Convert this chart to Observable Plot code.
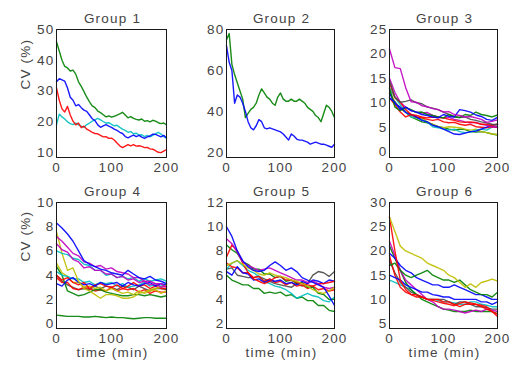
<!DOCTYPE html>
<html><head><meta charset="utf-8">
<script src="https://cdn.jsdelivr.net/npm/d3@7"></script>
<script src="https://cdn.jsdelivr.net/npm/@observablehq/plot@0.6"></script>
<style>
body{margin:0;background:#fff}
#chart{position:relative;width:514px;height:367px;overflow:hidden}
.panel{position:absolute}
</style>
</head><body><div id="chart"></div>
<script>
// time grids (min)
const time5 = [0,5,10,15,20,25,30,35,40,45,50,55,60,65,70,75,80,85,90,95,100,105,110,115,120,125,130,135,140,145,150,155,160,165,170,175,180,185,190,195,200];
const time10 = [0,10,20,30,40,50,60,70,80,90,100,110,120,130,140,150,160,170,180,190,200];
const xTicks = [0,100,200];

// Group 1 (CV %)
const g1Green = [46,43,40,38,37.5,36.5,36.8,35.5,33,31.5,29.8,28,26.5,25.2,24.6,23.5,23,22.3,21.6,21.9,21.5,21.8,22.2,22.6,23.1,22.2,21.3,21.7,21.1,20.8,20.6,20.9,20.2,20.4,20,20.5,20.2,19.7,19.4,19.6,19];
const g1Blue = [33,34,33.6,33.2,31,28,27,25.2,25.6,24.6,23.8,23.4,22.2,21,20.4,19,18.2,18.7,19.1,18.6,18.2,17.6,17.2,16.6,16.2,15.2,14.8,15.3,15.7,15.2,15.6,15,14.6,15.1,15.4,16,15.9,15.5,15.1,15.6,14.7];
const g1Cyan = [19,22.5,21.6,20.9,20,19.4,19.1,19.6,19,18.6,18.2,19.1,19.6,20.2,20.6,21.1,20.6,20.1,19.6,19.7,19.2,18.7,18.9,18.2,17.6,17.2,16.6,16.8,16.1,16.3,15.7,15.8,15.2,15.6,15.1,15.6,16.1,16.6,16,15.2,14.7];
const g1Red = [31,27,24.2,23.2,25,22.2,20.2,19,19.6,18.1,18.6,17.6,17.1,16.6,16.2,16.1,15.6,15.1,15.2,14.6,14.7,14.1,13.1,12.2,11.6,12.1,12.6,12.2,12.6,12.1,12.2,12,11.6,11.7,11.2,11.1,10.6,10.1,10,10.5,11];

// Group 2
const g2Green = [75,78,63,58,54,50,46,37,39,41,42,44,48,51,49,47,46,44,43,47,49,46,45,45,46,45,45,46,45,44,42,41,40,38,37,35,39,43,42,40,37];
const g2Blue = [72,64,60,44,48,47,44,40,35,32,31,33,36,35,32,31.5,32,31.5,31,30.5,30,29,27.5,26,29,28,26.5,26,26,25.5,25,24,24.5,25,24.5,24,24,23.5,23,22.5,24];

// Group 3
const g3Magenta1 = [21,17.2,17,13.1,10.2,10.1,9.4,9.2,8.8,8.6,8.1,8.2,7.6,7.4,7.1,7.2,6.9,6.6,6,6.2,6.5];
const g3Gray = [14.5,11.2,10.1,10.3,10.6,10,9.8,9.1,8.9,8.6,8.1,7.6,7.2,7,7.1,6.6,6.4,6.1,5.9,5.6,5.5];
const g3Blue1 = [11,10.1,8.6,9.1,8.4,8.1,7.6,7.4,7.1,6.9,7.6,7.2,7.1,8.6,8.4,8.1,7.5,7.2,6.6,6.4,7];
const g3Blue2 = [12,9.8,9.1,8,7.6,7.1,6.4,6.1,5.4,5.1,4.6,4.1,3.6,3.5,3.8,4.1,4.2,4.6,5,5.4,5.6];
const g3Green1 = [13,9.1,8.4,9,8.6,8,8.1,7.6,7.4,7.1,6.9,7.6,7.1,7,7.6,7.4,8.1,7.6,7.4,7.1,7.5];
const g3Green2 = [12,10.2,8.9,8.1,7.1,6.6,6.1,5.9,5.6,5.1,4.9,4.6,4.4,4.6,4.5,4.1,4,4.1,3.9,3.6,3.4];
const g3Red1 = [14,11.1,10.1,8.6,7.6,7.4,7.1,6.9,7.1,7,6.9,6.6,6.4,6.1,6,6.1,5.9,5.6,5.6,5.4,5.6];
const g3Red2 = [11,9.6,8.1,7.1,7.6,7,6.9,6.6,6.4,6.6,6.1,5.9,6,5.6,5.4,5.6,5.1,5,4.9,5.1,5];
const g3Yellow = [12.5,10.1,8.9,8.1,7.4,7.1,6.9,6.1,5.6,5.1,4.9,5.1,5,4.9,4.6,4.4,4.6,4.1,3.9,3.6,3.5];
const g3Cyan = [13,11.1,9.6,8.1,7.1,6.9,6.6,6,5.1,4.9,4.6,4.4,4.6,4.1,3.9,4,4.4,4.6,4.4,5,5.1];
const g3Magenta2 = [15,12.1,10.1,9.1,8.4,8.1,7.9,8,7.4,7.1,6.9,7,6.6,6.4,6.1,5.9,6,5.6,5.4,5.1,5];

// Group 4
const g4Blue1 = [8.3,7.9,7.4,6.8,6,5.2,4.9,4.7,4.5,4.4,4.2,4.1,4,4.4,4.1,3.8,3.7,3.9,3.6,3.5,3.3];
const g4Blue2 = [3.3,3.1,3.6,3.8,3.4,3.2,3.3,3.1,3.4,3.2,3.3,3.4,3.1,3.4,3.2,3.1,3.3,3.4,3.1,3.3,3.2];
const g4Yellow1 = [7.6,5.8,4.4,4.6,3.5,2.9,2.7,2.4,2.1,2.4,2.4,2.3,2.1,2.1,2.2,2.5,2.6,2.8,2.9,3,3.2];
const g4Yellow2 = [5,4.2,3.9,3.4,3.4,3,3.1,2.9,3,2.7,2.9,2.7,2.5,2.6,2.4,2.7,2.5,2.7,2.8,2.5,2.7];
const g4Magenta1 = [7.2,6.8,6.3,5.8,5.6,5.1,5,4.7,4.8,4.5,4.6,4.3,4.2,4.1,3.8,3.8,3.5,3.5,3.3,3.3,3];
const g4Magenta2 = [6.6,6.1,5.9,5.3,5.1,4.6,4.7,4.4,4.4,4.1,4.1,3.8,3.9,3.6,3.7,3.4,3.5,3.2,3.3,3,3.1];
const g4Cyan1 = [6,5.8,5.7,5.4,5.3,4.9,4.8,4.4,4.4,4,4.1,3.8,3.9,3.7,3.8,3.5,3.7,3.5,3.6,3.7,3.5];
const g4Cyan2 = [4.3,4,3.9,3.7,3.7,3.4,3.5,3.2,3.4,3.3,3.4,3.1,3.3,3,3.1,3.2,3.4,3.1,3.2,3.1,3.3];
const g4Red1 = [4,3.6,3.8,3.4,3.2,3.4,2.9,3.2,3.3,3.1,3,3.2,2.9,3.1,3.4,3.1,3.2,2.9,3.1,2.9,2.9];
const g4Red2 = [3.8,3.4,3.4,2.9,2.8,3,2.9,2.7,2.8,2.7,3,2.7,2.9,2.8,2.9,2.6,2.8,2.5,2.7,2.6,2.6];
const g4Green1 = [4.7,4,2.7,2.5,2.3,2.4,2.6,2.8,2.8,2.6,2.5,2.4,2.3,2.3,2.4,2.4,2.3,2.4,2.3,2.2,2.3];
const g4Green2 = [0.7,0.65,0.6,0.6,0.6,0.55,0.55,0.6,0.55,0.5,0.55,0.5,0.5,0.45,0.4,0.45,0.5,0.5,0.45,0.45,0.45];
const g4Gray = [4,3.5,3.2,3,2.8,2.9,2.8,3.1,2.9,3.1,3,2.8,3.1,3,2.8,3.1,2.9,2.7,2.9,2.9,2.8];

// Group 5
const g5Blue1 = [10,9.2,8,7.2,6.7,6.4,6.3,6.4,6.8,7.1,6.8,6.4,6.6,6.3,5.8,5.6,5.4,5.2,5,4.3,3.5];
const g5Blue2 = [6.3,6,6.7,6.2,6.1,5.6,5.7,5.4,5.6,5.5,5.6,5.3,5.4,5.2,5.5,5.3,5.6,5.5,5.3,5.6,5.5];
const g5Magenta = [9,8.6,7.9,7.1,6.8,6.6,6.4,6.5,6.6,6.4,6.2,6,5.8,5.6,5.6,5.4,5.5,5.3,5,4.9,5];
const g5Red1 = [7.5,8.5,8,7,6.2,5.7,5.5,5.3,5.5,5.8,5.9,5.6,5.6,5.4,5.3,5.2,5.1,5.3,5.3,5.4,5.5];
const g5Red2 = [7,6.7,6.6,6.2,6.2,5.8,5.9,5.5,5.7,5.4,5.5,5.2,5.4,5.1,5.2,4.9,5.1,4.8,4.9,4.7,4.8];
const g5Green1 = [8.5,8.1,7.8,7.1,6.9,6.5,6.5,6.1,6.1,5.8,5.9,5.5,5.6,5.3,5.4,5,5,4.5,4.4,4,4];
const g5Green2 = [6,5.6,5.4,5.2,5.2,4.9,4.9,4.5,4.6,4.5,4.6,4.3,4.4,4.1,4.2,3.9,3.9,3.5,3.5,3.1,3];
const g5Yellow = [6.8,7,7.2,6.9,6.6,6.4,6.1,6,6.2,6,5.9,5.8,5.6,5.5,5.3,5.1,4.8,4.6,4.5,4.7,5];
const g5Cyan = [6.5,7,7.2,6.8,6.4,6.2,5.9,5.5,5.3,5.1,5,4.8,4.5,4.1,4.3,4.5,4.3,4.2,3.9,3.8,4.2];
const g5Gray = [6.5,6.6,6,5.9,5.8,5.8,5.9,5.7,5.5,5.3,5.2,5.1,5,5.3,5.1,5.3,6,6.3,6.2,5.9,6.3];

// Group 6
const g6Yellow = [27,24,21,20,19.5,19,18.5,17.5,17,16.5,16,15,14.5,13.5,12.5,13.2,12.5,13.5,13.8,14.2,13.8];
const g6Red1 = [27,20,14,12,11,11,10.5,10,9.8,9.5,9.2,9,8.7,9.2,9.5,9.3,9,8.8,8.5,7.5,6.5];
const g6Red2 = [19,15,12.5,11.5,11,10.5,10.5,10,10,10,9.5,9.5,9,8.5,9,9,9,8.5,8,7.5,7];
const g6Green1 = [17,17.5,16,15,14.5,15,15.5,16,15,14.5,14,14,13.5,14,13,12,11.5,11,11,10.5,11.5];
const g6Green2 = [21,18.5,16,13.5,12,11,10,9.5,9,8.5,8,7.8,7.5,7.5,7.5,7.8,7.5,7.5,7.5,7.5,7];
const g6Blue1 = [19.5,18.5,17,16,15.5,14.5,14,13.5,13,13,12.5,12.5,13,12.5,12,11.5,11,11,10.5,10,10];
const g6Blue2 = [15,14.5,14,13,12.5,12,11.5,11.5,11,10.8,10.5,10.5,10,10,10,10,10,9.5,9.5,9,9.5];
const g6Magenta = [22,19,16,14,13,12,11,10,9.5,8.5,8,8,7.8,7.5,7.2,7.5,7.8,7.5,8,7.8,7.5];
const g6Cyan = [14,13.5,13,12.5,12,11,10.5,10,10,9.8,9.5,9.5,9.3,9,9,9.5,9.5,9,8.8,8.5,8.5];
const g6Gray = [18,15.5,13.5,12.5,11.5,11,10.5,10,10,10,10,9.5,9,9.5,9.5,9,8.5,8.5,8.3,8,8];

const titles = ["Group 1","Group 2","Group 3","Group 4","Group 5","Group 6"];
const yTicks = [[10,20,30,40,50],[20,40,60,80],[0,5,10,15,20,25],[0,2,4,6,8,10],[2,4,6,8,10,12],[5,10,15,20,25,30]];
const yDomains = [[8.4,50],[17.5,80],[-1.2,25],[-0.4,10],[1.6,12],[4,30]];

const C = {b:"#0000ff", g:"#008000", r:"#ff0000", c:"#00bfbf", m:"#bf00bf", y:"#bfbf00", k:"#4a4a4a"};

const panels = [
  {time: time5, series: [[g1Cyan,"c"],[g1Red,"r"],[g1Blue,"b"],[g1Green,"g"]]},
  {time: time5, series: [[g2Green,"g"],[g2Blue,"b"]]},
  {time: time10, series: [[g3Green2,"g"],[g3Yellow,"y"],[g3Cyan,"c"],[g3Red2,"r"],[g3Blue2,"b"],[g3Magenta2,"m"],[g3Red1,"r"],[g3Gray,"k"],[g3Green1,"g"],[g3Blue1,"b"],[g3Magenta1,"m"]]},
  {time: time10, series: [[g4Green2,"g"],[g4Gray,"k"],[g4Red2,"r"],[g4Green1,"g"],[g4Yellow2,"y"],[g4Cyan2,"c"],[g4Red1,"r"],[g4Blue2,"b"],[g4Yellow1,"y"],[g4Cyan1,"c"],[g4Magenta2,"m"],[g4Magenta1,"m"],[g4Blue1,"b"]]},
  {time: time10, series: [[g5Gray,"k"],[g5Green2,"g"],[g5Cyan,"c"],[g5Red2,"r"],[g5Green1,"g"],[g5Blue2,"b"],[g5Red1,"r"],[g5Magenta,"m"],[g5Yellow,"y"],[g5Blue1,"b"]]},
  {time: time10, series: [[g6Cyan,"c"],[g6Gray,"k"],[g6Green2,"g"],[g6Magenta,"m"],[g6Red2,"r"],[g6Blue2,"b"],[g6Blue1,"b"],[g6Green1,"g"],[g6Red1,"r"],[g6Yellow,"y"]]}
];

// frame layout (px)
const colX = [[56,166],[226,334],[389,497]];
const rowY = [[29,157],[202,328]];
const ML = 50, MR = 16, MT = 30, MB = 40;

const chart = document.getElementById("chart");
panels.forEach((p, i) => {
  const col = i % 3, row = Math.floor(i / 3);
  const [x0, x1] = colX[col], [y0, y1] = rowY[row];
  const marks = p.series.map(([vals, c]) =>
    Plot.line(vals, {x: (d, j) => p.time[j], y: d => d, stroke: C[c], strokeWidth: 1.4, strokeOpacity: 0.9}));
  marks.push(Plot.frame({stroke: "#1a1a1a", strokeWidth: 1}));
  marks.push(Plot.text([titles[i]], {frameAnchor: "top", dy: -7, dx: 1, lineAnchor: "bottom", fontSize: 13.5, fill: "#444"}));
  if (col === 0) marks.push(Plot.text(["CV (%)"], {frameAnchor: "left", rotate: -90, dx: -31, dy: -4, fontSize: 13.5, fill: "#444"}));
  if (row === 1) marks.push(Plot.text(["time (min)"], {frameAnchor: "bottom", dy: 19, dx: 1, lineAnchor: "top", fontSize: 13.5, fill: "#444"}));
  const svg = Plot.plot({
    width: ML + (x1 - x0) + MR,
    height: MT + (y1 - y0) + MB,
    marginLeft: ML, marginRight: MR, marginTop: MT, marginBottom: MB,
    x: {domain: [0, 200], ticks: xTicks, tickSize: 0, tickPadding: 5, label: null},
    y: {domain: yDomains[i], ticks: yTicks[i], tickSize: 0, tickPadding: 2, label: null},
    style: {fontFamily: "'Liberation Sans', Arial, sans-serif", fontSize: "13.5px", letterSpacing: "1.2px", color: "#444", background: "transparent", overflow: "visible"},
    marks
  });
  svg.classList.add("panel");
  svg.style.left = (x0 - ML) + "px";
  svg.style.top = (y0 - MT) + "px";
  chart.appendChild(svg);
});
</script>
</body></html>
